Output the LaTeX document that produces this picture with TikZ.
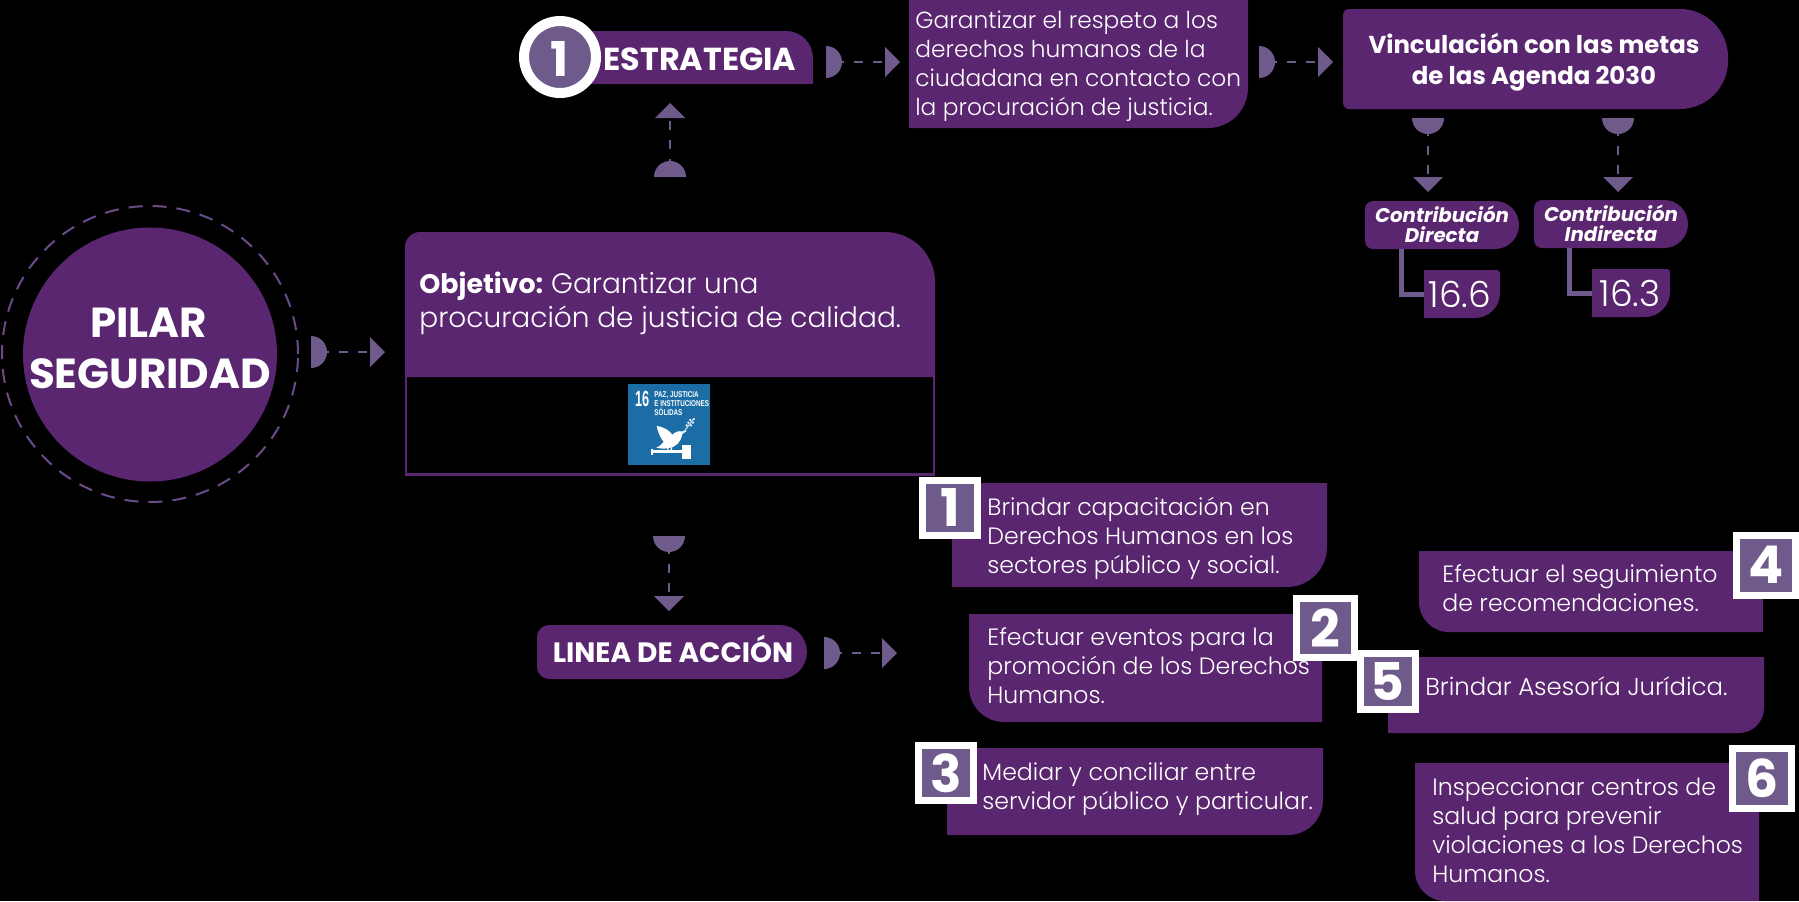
\documentclass[tikz,border=0pt]{standalone}
\usepackage{fontspec}
\usepackage{graphicx}
\setmainfont{Poppins Light}[BoldFont={Poppins Bold},BoldItalicFont={Poppins Bold Italic}]
\newfontfamily\sdgfont{Liberation Sans}
\newfontfamily\numfont{Poppins Bold}
\definecolor{pur}{HTML}{5A2670}
\definecolor{lil}{HTML}{6F5A8C}
\definecolor{ringc}{HTML}{6A4A88}
\definecolor{sdgblue}{HTML}{1C6DA6}
% x1 y1 x2 y2 rTL rTR rBR rBL
\newcommand{\rbox}[8]{\fill[pur] ({#1+#5},#2) -- ({#3-#6},#2)
 .. controls ({#3-0.448*#6},#2) and (#3,{#2+0.448*#6}) .. (#3,{#2+#6})
 -- (#3,{#4-#7}) .. controls (#3,{#4-0.448*#7}) and ({#3-0.448*#7},#4) .. ({#3-#7},#4)
 -- ({#1+#8},#4) .. controls ({#1+0.448*#8},#4) and (#1,{#4-0.448*#8}) .. (#1,{#4-#8})
 -- (#1,{#2+#5}) .. controls (#1,{#2+0.448*#5}) and ({#1+0.448*#5},#2) .. ({#1+#5},#2) -- cycle;}
\newcommand{\semiR}[2]{\fill[lil] (#1,{#2-16}) arc[start angle=90,end angle=-90,radius=8pt] -- cycle;}
\newcommand{\semiU}[2]{\fill[lil] ({#1-16},#2) arc[start angle=180,end angle=0,radius=8pt] -- cycle;}
\newcommand{\semiD}[2]{\fill[lil] ({#1-16},#2) arc[start angle=180,end angle=360,radius=8pt] -- cycle;}
\newcommand{\triR}[2]{\fill[lil] (#1,{#2-15}) -- ({#1+15},#2) -- (#1,{#2+15}) -- cycle;}
\newcommand{\triU}[2]{\fill[lil] ({#1-15},#2) -- (#1,{#2-15}) -- ({#1+15},#2) -- cycle;}
\newcommand{\triD}[2]{\fill[lil] ({#1-15},#2) -- (#1,{#2+15}) -- ({#1+15},#2) -- cycle;}
\tikzset{
 x=0.5pt,y=-0.5pt,
 dashline/.style={draw=lil,line width=1.25pt,dash pattern=on 4.5pt off 5pt,dash phase=3.5pt},
 elbow/.style={draw=lil,line width=2.5pt},
 tx/.style={inner sep=0pt,text=white,align=left,anchor=base west,font=\fontsize{11.8}{14.5}\selectfont},
 tb/.style={inner sep=0pt,text=white,align=center,anchor=base,font=\bfseries\fontsize{#1}{#1}\selectfont},
 numsq/.style={draw=white,fill=lil,line width=3.5pt,text=white,inner sep=0pt,font=\numfont\fontsize{26}{26}\selectfont},
 sdgt/.style={inner sep=0pt,text=white,anchor=base west,font=\sdgfont\bfseries\fontsize{4.2}{4.4}\selectfont,align=left},
}
\begin{document}
\begin{tikzpicture}
\useasboundingbox (0,0) rectangle (1799,901);
\fill[black] (0,0) rectangle (1799,901);
% Pilar
\node[circle,fill=pur,minimum size=127pt,inner sep=0pt] (pilar) at (150,354.5) {};
\node[circle,draw=ringc,line width=1pt,dash pattern=on 7pt off 5pt,minimum size=148pt,inner sep=0pt] (ring) at (150,354) {};
\node[tb=21] (pilart) at (148.5,337) {PILAR};
\node[tb=21] (segt) at (150,388) {SEGURIDAD};
\semiR{311}{352}\triR{370}{352}
\coordinate (a1) at (327,352); \coordinate (b1) at (370,352);
\draw[dashline] (a1) -- (b1);
% Objetivo
\rbox{405}{232}{935}{377}{15}{50}{0}{0}
\draw[pur,line width=1.25pt] (406,377) -- (406,474.5) -- (934,474.5) -- (934,377);
\node[tx,font=\fontsize{14}{17}\selectfont] (obj) at (419,327) {{\fontsize{13.4}{17}\selectfont\textbf{Objetivo:}}\hspace{-1.2pt} Garantizar una\\procuración de justicia de calidad.};
% SDG tile
\fill[sdgblue] (628,384) rectangle (710,465);
\node[sdgt,font=\sdgfont\bfseries\fontsize{11}{11}\selectfont] (s16) at (634.7,406.5) {\scalebox{.58}[1]{16}};
\node[sdgt] (sdgtxt) at (654,415) {\scalebox{.75}[1]{PAZ, JUSTICIA}\\\scalebox{.75}[1]{E INSTITUCIONES}\\\scalebox{.75}[1]{SÓLIDAS}};
\begin{scope}[shift={(625,382)},x=0.1667pt,y=-0.1667pt]
\fill[white] (95,132) .. controls (120,135) and (135,148) .. (142,158) .. controls (150,150) and (160,146) .. (172,148) -- (186,146) -- (172,156) .. controls (168,180) and (150,198) .. (128,199) .. controls (118,200) and (105,200) .. (94,197) .. controls (104,192) and (112,186) .. (116,180) .. controls (105,165) and (98,148) .. (95,132) -- cycle;
\fill[white] (127,197) rectangle (131,206) (137,196) rectangle (141,206);
\fill[white] (84,205) rectangle (172,213);
\fill[white] (78,200) rectangle (84,218);
\fill[white] (172,188) rectangle (198,232);
\draw[white,line width=0.4pt] (176,150) -- (205,112);
\fill[white] (185,130) circle[radius=0.6pt] (190,122) circle[radius=0.6pt] (198,130) circle[radius=0.6pt] (204,122) circle[radius=0.6pt] (196,114) circle[radius=0.6pt] (207,111) circle[radius=0.6pt];
\end{scope}
% Estrategia
\rbox{585}{31}{813}{84}{0}{27}{0}{0}
\node[circle,draw=white,fill=lil,line width=5pt,minimum size=36pt,inner sep=0pt] (c1) at (560,57) {};
\node[inner sep=0pt,anchor=base,text=white,font=\numfont\fontsize{24}{24}\selectfont] (c1t) at (560,76) {1};
\node[tb=15.9] (estr) at (700,70) {ESTRATEGIA};
\semiU{670}{177}\triU{670}{118}
\coordinate (a2) at (670,161); \coordinate (b2) at (670,118);
\draw[dashline] (a2) -- (b2);
\semiR{826}{62}\triR{885}{62}
\coordinate (a3) at (842,62); \coordinate (b3) at (885,62);
\draw[dashline] (a3) -- (b3);
% Garantizar
\rbox{909}{0}{1248}{128}{0}{0}{40}{0}
\node[tx,font=\fontsize{11.65}{14.5}\selectfont] (gar) at (915,115) {Garantizar el respeto a los\\derechos humanos de la\\ciudadana en contacto con\\la procuración de justicia.};
\semiR{1259}{62}\triR{1318}{62}
\coordinate (a4) at (1275,62); \coordinate (b4) at (1318,62);
\draw[dashline] (a4) -- (b4);
% Vinculacion
\rbox{1343}{9}{1728}{109}{6}{48}{48}{6}
\node[tb=12.2,font=\bfseries\fontsize{12.2}{15.5}\selectfont] (vin) at (1534,84) {Vinculación con las metas\\de las Agenda 2030};
\semiD{1428}{118}\triD{1428}{177}
\coordinate (a5) at (1428,134); \coordinate (b5) at (1428,177);
\draw[dashline] (a5) -- (b5);
\semiD{1618}{118}\triD{1618}{177}
\coordinate (a6) at (1618,134); \coordinate (b6) at (1618,177);
\draw[dashline] (a6) -- (b6);
% Contribuciones
\rbox{1365}{201}{1519}{249}{8}{24}{24}{8}
\rbox{1534}{200}{1688}{248}{8}{24}{24}{8}
\node[tb=9.9,font=\bfseries\itshape\fontsize{9.9}{9.7}\selectfont] (cd) at (1442,242) {Contribución\\Directa};
\node[tb=9.9,font=\bfseries\itshape\fontsize{9.9}{9.7}\selectfont] (ci) at (1611,241) {Contribución\\Indirecta};
\coordinate (e1) at (1401,249); \coordinate (e2) at (1424,294);
\draw[elbow] (e1) |- (e2);
\coordinate (e3) at (1569,248); \coordinate (e4) at (1592,293);
\draw[elbow] (e3) |- (e4);
\rbox{1424}{270}{1500}{318}{0}{3}{25}{0}
\rbox{1592}{269}{1670}{317}{0}{3}{25}{0}
\node[inner sep=0pt,anchor=base,text=white,font=\fontsize{18}{18}\selectfont] (v166) at (1460,307) {16.6};
\node[inner sep=0pt,anchor=base,text=white,font=\fontsize{18}{18}\selectfont] (v163) at (1630,306) {16.3};
% Linea de accion
\semiD{669}{536}\triD{669}{596}
\coordinate (a7) at (669,552); \coordinate (b7) at (669,596);
\draw[dashline] (a7) -- (b7);
\rbox{537}{625}{807}{679}{12}{27}{27}{12}
\node[tb=14] (lin) at (673,662) {LINEA DE ACCIÓN};
\semiR{824}{653}\triR{882}{653}
\coordinate (a8) at (840,653); \coordinate (b8) at (882,653);
\draw[dashline] (a8) -- (b8);
% Items
\rbox{952}{483}{1327}{587}{0}{0}{40}{0}
\rbox{969}{614}{1322}{722}{0}{0}{0}{35}
\rbox{947}{748}{1323}{835}{0}{0}{35}{0}
\rbox{1419}{551}{1763}{632}{0}{0}{0}{30}
\rbox{1388}{657}{1764}{733}{0}{0}{25}{0}
\rbox{1415}{763}{1759}{901}{0}{0}{0}{30}
\node[tx] (t1) at (987,573) {Brindar capacitación en\\Derechos Humanos en los\\sectores público y social.};
\node[tx] (t2) at (987,703) {Efectuar eventos para la\\promoción de los Derechos\\Humanos.};
\node[tx] (t3) at (982,809) {Mediar y conciliar entre\\servidor público y particular.};
\node[tx] (t4) at (1442,611) {Efectuar el seguimiento\\de recomendaciones.};
\node[tx,font=\fontsize{12.2}{14.5}\selectfont] (t5) at (1425,695) {Brindar Asesoría Jurídica.};
\node[tx] (t6) at (1432,882) {Inspeccionar centros de\\salud para prevenir\\violaciones a los Derechos\\Humanos.};
\node[numsq,minimum width=27.5pt,minimum height=27.5pt] (n1) at (950,508) {1};
\node[numsq,minimum width=29pt,minimum height=29.5pt] (n2) at (1325,628) {2};
\node[numsq,minimum width=27.5pt,minimum height=27.5pt] (n3) at (946,773) {3};
\node[numsq,minimum width=29.5pt,minimum height=30pt] (n4) at (1766,565) {4};
\node[numsq,minimum width=27.5pt,minimum height=28pt] (n5) at (1387.5,681.5) {5};
\node[numsq,minimum width=29.5pt,minimum height=30pt] (n6) at (1762,778) {6};
\end{tikzpicture}
\end{document}
